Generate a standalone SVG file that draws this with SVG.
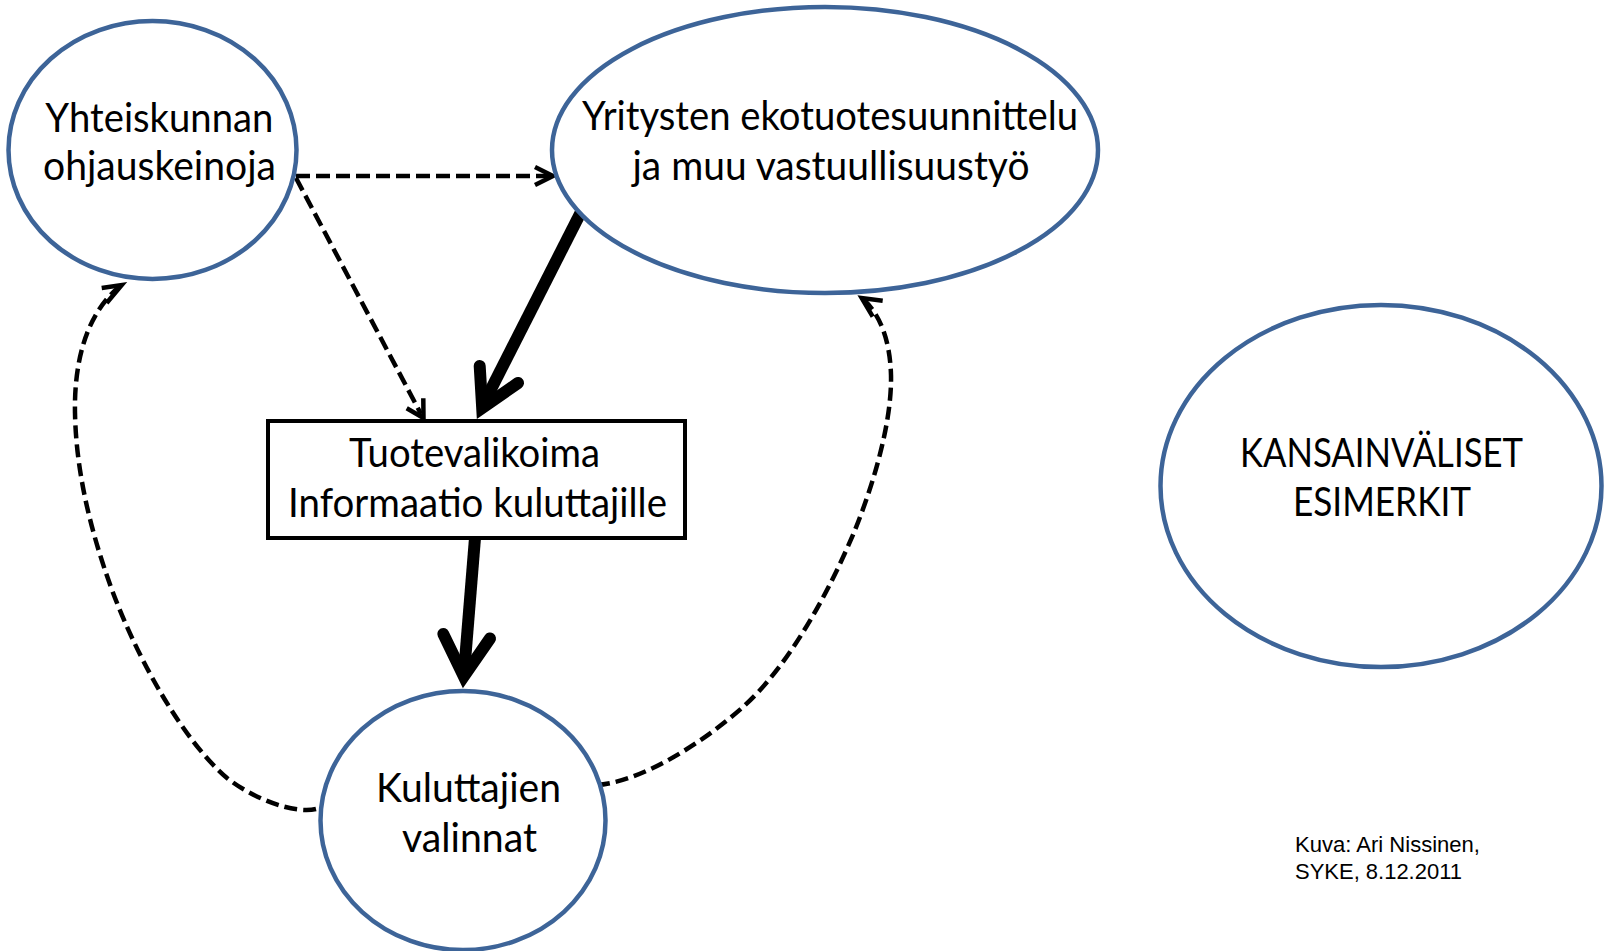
<svg xmlns="http://www.w3.org/2000/svg" width="1608" height="951" viewBox="0 0 1608 951">
<style>
.bg{fill:#ffffff}
.node{fill:#ffffff;stroke:#3d6498;stroke-width:4.5}
.box{fill:#ffffff;stroke:#000000;stroke-width:4}
.lbl{font-family:Lato,"Open Sans","Liberation Sans",sans-serif;font-size:40px;fill:#000000;text-anchor:middle}
.credit{font-family:"Liberation Sans",Arial,sans-serif;font-size:21.5px;fill:#000000}
.dash{fill:none;stroke:#000000;stroke-width:4.5;stroke-dasharray:14 6}
.dashc{fill:none;stroke:#000000;stroke-width:4.5;stroke-dasharray:13 6}
.head{fill:none;stroke:#000000;stroke-width:4.5;stroke-linejoin:miter}
.thick{fill:none;stroke:#000000;stroke-width:12;stroke-linecap:butt}
.thickhead{fill:none;stroke:#000000;stroke-width:12;stroke-linecap:round;stroke-linejoin:miter;stroke-miterlimit:10}
</style>
<rect class="bg" x="0" y="0" width="1608" height="951"/>
<g id="connectors">
  <path class="dash" d="M296,176 L550,176"/>
  <path class="head" d="M535,167 L553,176 L535,185"/>
  <path class="dash" d="M296,178 L421,414"/>
  <path class="head" d="M406.7,408.3 L423.5,418 L423.3,398.3"/>
  <path class="dashc" d="M316,809 C295,814 255,800 227,778 C185,742 140,665 112,590 C90,530 76,470 75,413 C74,365 85,315 119,287"/>
  <path class="head" d="M101.7,288 L121.7,285 L106.7,303"/>
  <path class="dashc" d="M597,785 C640,782 700,745 743,707 C790,665 830,590 855,530 C875,480 892,420 891,375 C890,340 880,315 864,300"/>
  <path class="head" d="M882.7,300.7 L861.7,298 L872.7,316.7"/>
  <path class="thick" d="M581,212 L482.5,406"/>
  <path class="thickhead" d="M479.7,366 L482.2,408 L518,383"/>
  <path class="thick" d="M475,538 L463.8,676"/>
  <path class="thickhead" d="M443.3,634 L463.8,676.4 L490,638.5"/>
</g>
<g id="node-yhteiskunta">
  <ellipse class="node" cx="152.5" cy="150" rx="144" ry="129"/>
  <text class="lbl" x="159.3" y="131.5" textLength="228" lengthAdjust="spacingAndGlyphs">Yhteiskunnan</text>
  <text class="lbl" x="159.5" y="180" textLength="233" lengthAdjust="spacingAndGlyphs">ohjauskeinoja</text>
</g>
<g id="node-yritykset">
  <ellipse class="node" cx="825" cy="150" rx="273" ry="143"/>
  <text class="lbl" x="830" y="130" textLength="496" lengthAdjust="spacingAndGlyphs">Yritysten ekotuotesuunnittelu</text>
  <text class="lbl" x="831" y="180" textLength="397" lengthAdjust="spacingAndGlyphs">ja muu vastuullisuustyö</text>
</g>
<g id="node-tuotevalikoima">
  <rect class="box" x="268" y="421" width="417" height="117"/>
  <text class="lbl" x="474.5" y="467" textLength="251" lengthAdjust="spacingAndGlyphs">Tuotevalikoima</text>
  <text class="lbl" x="477.5" y="517" textLength="379" lengthAdjust="spacingAndGlyphs">Informaatio kuluttajille</text>
</g>
<g id="node-kuluttajat">
  <ellipse class="node" cx="463" cy="820.5" rx="142.5" ry="129.5"/>
  <text class="lbl" x="468.5" y="802" textLength="185" lengthAdjust="spacingAndGlyphs">Kuluttajien</text>
  <text class="lbl" x="469.5" y="852" textLength="135" lengthAdjust="spacingAndGlyphs">valinnat</text>
</g>
<g id="node-kansainvaliset">
  <ellipse class="node" cx="1381" cy="486" rx="220.5" ry="181"/>
  <text class="lbl" x="1381.5" y="467" textLength="283" lengthAdjust="spacingAndGlyphs">KANSAINVÄLISET</text>
  <text class="lbl" x="1382" y="516" textLength="178" lengthAdjust="spacingAndGlyphs">ESIMERKIT</text>
</g>
<g id="credit">
  <text class="credit" x="1295" y="852" textLength="185" lengthAdjust="spacingAndGlyphs">Kuva: Ari Nissinen,</text>
  <text class="credit" x="1295" y="879" textLength="167" lengthAdjust="spacingAndGlyphs">SYKE, 8.12.2011</text>
</g>
</svg>
